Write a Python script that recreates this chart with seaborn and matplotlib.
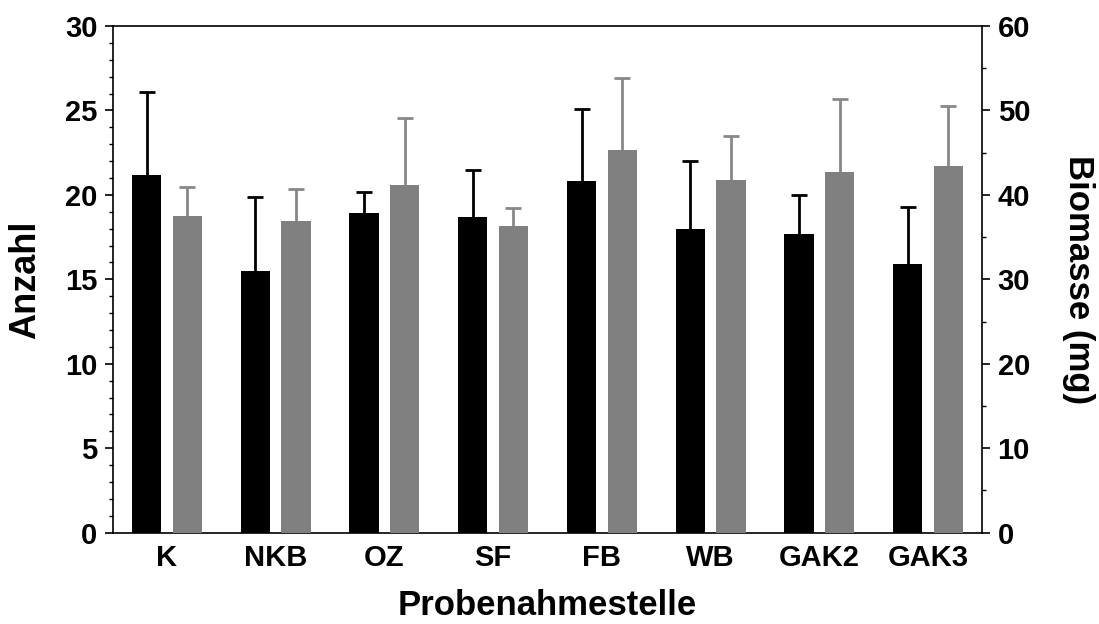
import numpy as np
import pandas as pd
import seaborn as sns
import matplotlib
matplotlib.use("Agg")
import matplotlib.pyplot as plt
from matplotlib.ticker import MultipleLocator

# ---- data ----
sites = ["K", "NKB", "OZ", "SF", "FB", "WB", "GAK2", "GAK3"]
anzahl = [21.2, 15.5, 18.9, 18.7, 20.8, 18.0, 17.7, 15.9]
anzahl_err = [4.9, 4.4, 1.3, 2.8, 4.3, 4.0, 2.3, 3.4]
biomasse = [37.5, 36.9, 41.2, 36.3, 45.3, 41.8, 42.7, 43.4]
biomasse_err = [3.4, 3.8, 7.9, 2.1, 8.6, 5.2, 8.7, 7.1]
left_ticks = [0, 5, 10, 15, 20, 25, 30]
right_ticks = [0, 10, 20, 30, 40, 50, 60]

# ---- layout ----
sns.set_style("ticks")
plt.rcParams["font.family"] = ["Liberation Sans", "DejaVu Sans"]
plt.rcParams["font.weight"] = "bold"
for k in ("text.color", "axes.labelcolor", "xtick.color", "ytick.color", "axes.edgecolor"):
    plt.rcParams[k] = "black"

group_pos = np.arange(len(sites), dtype=float)
off = 0.187
bw = 0.27

df_a = pd.DataFrame({"x": group_pos - off, "y": anzahl})
df_b = pd.DataFrame({"x": group_pos + off, "y": biomasse})

fig = plt.figure(figsize=(10.99, 6.24), dpi=100)
ax = fig.add_axes([112.7 / 1099, 1 - 532.7 / 624, 869.6 / 1099, 506.7 / 624])
ax2 = ax.twinx()

sns.barplot(data=df_a, x="x", y="y", native_scale=True, width=bw, color="black",
            saturation=1, errorbar=None, linewidth=0, ax=ax, zorder=2)
sns.barplot(data=df_b, x="x", y="y", native_scale=True, width=bw, color="#808080",
            saturation=1, errorbar=None, linewidth=0, ax=ax2, zorder=2)


def upper_errorbars(a, x, vals, err, color):
    zeros = np.zeros(len(vals))
    cont = a.errorbar(x, vals, yerr=[zeros, err], fmt="none", ecolor=color,
                      elinewidth=2.0, capsize=5.6, capthick=2.0, zorder=1)
    # hide the caps that sit on the bar tops (only upper whiskers shown)
    for cl in cont[1]:
        if np.allclose(np.asarray(cl.get_ydata(), float), np.asarray(vals, float)):
            cl.set_visible(False)


upper_errorbars(ax, group_pos - off, anzahl, anzahl_err, "black")
upper_errorbars(ax2, group_pos + off, biomasse, biomasse_err, "#888888")

xl = (-0.5, 7.5)
ax.set_xlim(*xl)
ax2.set_xlim(*xl)
ax.set_ylim(0, 30)
ax2.set_ylim(0, 60)

ax.set_xticks(group_pos)
ax.set_xticklabels(sites)
ax.set_yticks(left_ticks)
ax.yaxis.set_minor_locator(MultipleLocator(1))
ax2.set_yticks(right_ticks)
ax2.yaxis.set_minor_locator(MultipleLocator(5))

ax.tick_params(axis="x", length=0, pad=8, labelsize=21, labelcolor="black")
ax.tick_params(axis="y", which="major", direction="out", length=6, width=1.2,
               pad=5, labelsize=21, color="black", labelcolor="black")
ax.tick_params(axis="y", which="minor", direction="out", length=3, width=1.0, color="black")
ax2.tick_params(axis="y", which="major", direction="out", length=6, width=1.2,
                pad=5, labelsize=21, color="black", labelcolor="black")
ax2.tick_params(axis="y", which="minor", direction="out", length=3, width=1.0, color="black")
for lab in ax.get_xticklabels() + ax.get_yticklabels() + ax2.get_yticklabels():
    lab.set_fontweight("bold")

for a in (ax, ax2):
    for s in a.spines.values():
        s.set_linewidth(1.2)
        s.set_color("black")
ax.spines["right"].set_visible(False)
for s in ("left", "top", "bottom"):
    ax2.spines[s].set_visible(False)

ax.set_xlabel("Probenahmestelle", fontsize=25, fontweight="bold", color="black")
ax.set_ylabel("Anzahl", fontsize=26, fontweight="bold", color="black")
ax2.set_ylabel("Biomasse (mg)", fontsize=25, fontweight="bold", rotation=270,
               va="bottom", color="black")
ax.xaxis.set_label_coords(0.5, -0.111)
ax.yaxis.set_label_coords(-0.0796, 0.5)
ax2.yaxis.set_label_coords(1.0917, 0.5)

fig.savefig("out.png", dpi=100)
